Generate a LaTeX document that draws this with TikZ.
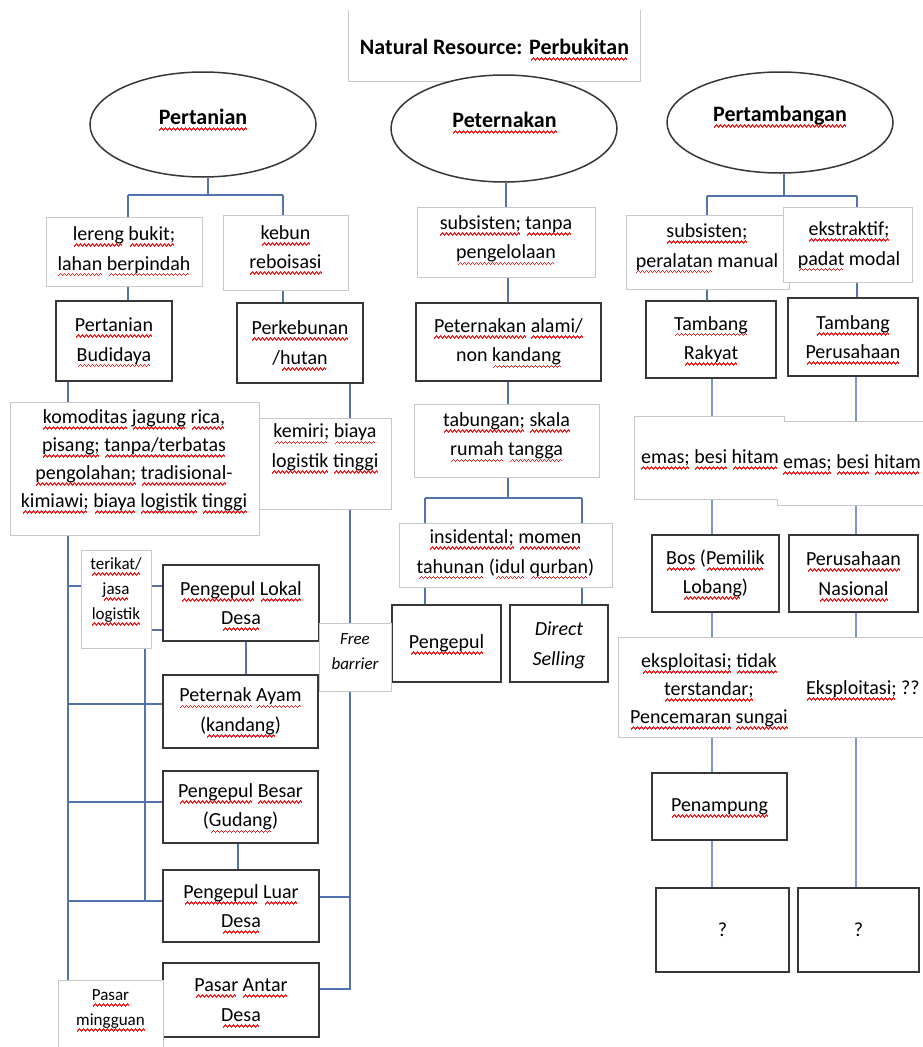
\documentclass[tikz,border=0pt]{standalone}
\usepackage{fontspec}
\setmainfont{Carlito}
\usetikzlibrary{shapes.geometric,fit}
\definecolor{conn}{RGB}{82,114,176}
\definecolor{connL}{RGB}{125,152,204}
\definecolor{dbord}{RGB}{55,55,55}
\definecolor{lbord}{RGB}{200,200,200}
\definecolor{squig}{RGB}{250,30,30}
\pgfdeclarelayer{bg}\pgfsetlayers{bg,main}
\newcommand\fsA{\fontsize{20}{29.5}\selectfont}
\newcommand\fsT{\fontsize{22}{29.5}\selectfont}
\newcommand\fsK{\fontsize{20}{28}\selectfont}
\newcommand\fsB{\fontsize{17}{25}\selectfont}
\newbox\wvbox
\newcommand\wvpat{\hbox{{\color{squig}\rule[-6.4pt]{1pt}{1.8pt}\rule[-5.4pt]{1pt}{1.8pt}\rule[-4.4pt]{1pt}{1.8pt}\rule[-5.4pt]{1pt}{1.8pt}}}}
\newcommand\wv[1]{\setbox\wvbox=\hbox{#1}\leavevmode\rlap{\smash{\hbox to\wd\wvbox{\cleaders\wvpat\hfill}}}\box\wvbox}
\tikzset{
 dbox/.style={draw=dbord, line width=1.5pt, fill=white, inner sep=0pt},
 lbox/.style={draw=lbord, line width=1pt, fill=white, inner sep=0pt},
 wbox/.style={draw=none, fill=white, inner sep=0pt},
 ell/.style={ellipse, draw=dbord, line width=1.5pt, fill=white, inner sep=0pt},
 lab/.style={inner sep=0pt, align=center, font=\fsA},
 ttl/.style={inner sep=0pt, align=center, font=\fsT\bfseries},
 cn/.style={draw=conn, line width=1.5pt},
 cnr/.style={draw=connL, line width=1.8pt},
}
\newcommand\dbx[3]{\node[dbox, fit={#2}] (#1) {};\node[lab] (#1T) at (#1.center) {#3};}
\begin{document}
\begin{tikzpicture}[x=1pt,y=-1pt]
\path[use as bounding box] (0,0) rectangle (923,1047);
% title
\node[wbox, fit={(349,10)(640,81)}] (title) {};
\draw[lbord, line width=1pt] (title.north west) -- (title.south west) -- (title.south east) -- (title.north east);
\node[ttl] (titleT) at (494.5,47) {Natural Resource: \wv{Perbukitan}};
% ellipses
\node[ell, minimum width=226, minimum height=105] (pert) at (203,124.5) {};
\node[ttl] (pertT) at (203,117) {\wv{Pertanian}};
\node[ell, minimum width=226, minimum height=107] (petn) at (504,128.5) {};
\node[ttl] (petnT) at (504.5,120) {\wv{Peternakan}};
\node[ell, minimum width=226, minimum height=101] (ptb) at (780,122.5) {};
\node[ttl] (ptbT) at (780,116) {\wv{Pertambangan}};
% row 2
\node[lbox, fit={(46,217)(202,286)}] (lereng) {};
\node[lab] (lerengT) at (124,250) {\wv{lereng} \wv{bukit;}\\\wv{lahan} \wv{berpindah}};
\node[lbox, fit={(223,215)(348,290)}] (kebun) {};
\node[lab] (kebunT) at (285.5,247) {\wv{kebun}\\\wv{reboisasi}};
\node[lbox, fit={(417,207)(595,277)}] (subs1) {};
\node[lab] (subs1T) at (506,239) {\wv{subsisten;} \wv{tanpa}\\\wv{pengelolaan}};
\node[lbox, fit={(626,215)(789,289)}] (subs2) {};
\node[lab] (subs2T) at (707,247) {\wv{subsisten;}\\\wv{peralatan} manual};
\node[lbox, fit={(783,207)(912,282)}] (ekst) {};
\node[lab] (ekstT) at (849,245) {\wv{ekstraktif;}\\\wv{padat} modal};
% row 3
\dbx{pbud}{(56,301)(172,381)}{\wv{Pertanian}\\\wv{Budidaya}}
\dbx{pkeb}{(237,303)(363,383)}{\wv{Perkebunan}\\/\wv{hutan}}
\dbx{palami}{(416,303)(601,381)}{\wv{Peternakan} \wv{alami/}\\non \wv{kandang}}
\dbx{trak}{(646,301)(776,378)}{\wv{Tambang}\\\wv{Rakyat}}
\dbx{tper}{(788,298)(918,376)}{\wv{Tambang}\\\wv{Perusahaan}}
% row 4
\node[lbox, fit={(259,418)(391,509)}] (kemiri) {};
\node[lab] (kemiriT) at (325,447.5) {\wv{kemiri;} \wv{biaya}\\\wv{logistik} \wv{tinggi}};
\node[lbox, fit={(10,402)(259,535)}] (komod) {};
\node[lab, font=\fsK] (komodT) at (134,460.5) {\wv{komoditas} \wv{jagung} \wv{rica,}\\\wv{pisang;} \wv{tanpa/terbatas}\\\wv{pengolahan;} \wv{tradisional}-\\\wv{kimiawi;} \wv{biaya} \wv{logistik} \wv{tinggi}};
\node[lbox, fit={(414,404)(599,477)}] (tabungan) {};
\node[lab] (tabunganT) at (506.5,436) {\wv{tabungan;} \wv{skala}\\\wv{rumah} \wv{tangga}};
\node[wbox, fit={(777,421)(930,505)}] (emasR) {};
\node[wbox, fit={(634,416)(784,499)}] (emasL) {};
\draw[lbord, line width=1pt] (930,421) -- (784,421) -- (784,416) -- (634,416) -- (634,499) -- (777,499) -- (777,505) -- (930,505);
\node[lab] (emasLT) at (710,458) {\wv{emas;} \wv{besi} \wv{hitam}};
\node[lab] (emasRT) at (852,463) {\wv{emas;} \wv{besi} \wv{hitam}};
% middle lower
\node[lbox, fit={(399,523)(612,587)}] (insid) {};
\node[lab] (insidT) at (505.5,553) {\wv{insidental;} \wv{momen}\\\wv{tahunan} (\wv{idul} \wv{qurban})};
\dbx{pengM}{(392,605)(501,682)}{\wv{Pengepul}}
\node[dbox, fit={(510,605)(608,682)}] (direct) {};
\node[lab, font=\fsA\itshape] (directT) at ([yshift=-2pt]direct.center) {Direct\\Selling};
% right lower
\dbx{bos}{(652,535)(779,612)}{\wv{Bos} (\wv{Pemilik}\\\wv{Lobang})}
\dbx{pnas}{(789,535)(918,612)}{\wv{Perusahaan}\\\wv{Nasional}}
\node[lbox, fit={(618,637)(930,737)}] (eksp) {};
\node[lab, font=\fsK] (ekspLT) at (709,690) {\wv{eksploitasi;} \wv{tidak}\\\wv{terstandar;}\\\wv{Pencemaran} \wv{sungai}};
\node[lab] (ekspRT) at (863,689) {\wv{Eksploitasi;} ??};
\dbx{penamp}{(652,773)(787,840)}{\wv{Penampung}}
\dbx{q1}{(656,888)(789,972)}{?}
\dbx{q2}{(798,888)(919,972)}{?}
% left lower
\node[lbox, fit={(81,550)(151,648)}] (terikat) {};
\node[lab, font=\fsB] (terikatT) at (116,590) {\wv{terikat/}\\\wv{jasa}\\\wv{logistik}};
\dbx{plokal}{(163,565)(319,641)}{\wv{Pengepul} \wv{Lokal}\\\wv{Desa}}
\node[lbox, fit={(319,623)(391,691)}] (free) {};
\node[lab, font=\fsB\itshape] (freeT) at (355,652) {Free\\barrier};
\dbx{payam}{(163,675)(318,748)}{\wv{Peternak} \wv{Ayam}\\(\wv{kandang})}
\dbx{pbesar}{(163,771)(318,843)}{\wv{Pengepul} \wv{Besar}\\(\wv{Gudang})}
\dbx{pluar}{(163,870)(319,942)}{\wv{Pengepul} \wv{Luar}\\\wv{Desa}}
\dbx{pantar}{(163,963)(319,1037)}{\wv{Pasar} \wv{Antar}\\\wv{Desa}}
\node[lbox, fit={(58,980)(163,1060)}] (pming) {};
\node[lab, font=\fsB] (pmingT) at (110.5,1009) {\wv{Pasar}\\\wv{mingguan}};
% connectors
\begin{pgfonlayer}{bg}
\coordinate (xA) at (208,195); \coordinate (xAl) at (128,195); \coordinate (xAr) at (283,195);
\draw[cn] (pert.south -| xA) -- (xA);
\draw[cn] (xAl) -- (xAr);
\draw[cn] (xAl) -- (xAl |- lereng.north);
\draw[cn] (xAr) -- (xAr |- kebun.north);
\draw[cn] (lereng.south -| xAl) -- (xAl |- pbud.north);
\draw[cn] (kebun.south -| xAr) -- (xAr |- pkeb.north);
\coordinate (xL) at (68,0); \coordinate (xR) at (350,0);
\draw[cn] (pbud.south -| xL) -- (xL |- komod.north);
\draw[cn] (komod.south -| xL) -- (xL |- pming.north);
\draw[cn] (pkeb.south -| xR) -- (xR |- kemiri.north);
\coordinate (hR1) at (350,897); \coordinate (hR2) at (350,989);
\draw[cn] (kemiri.south -| xR) -- (hR2) -- (hR2 -| pantar.east);
\draw[cn] (hR1) -- (hR1 -| pluar.east);
\coordinate (h1) at (68,586);
\draw[cn] (h1) -- (h1 -| terikat.west);
\draw[cn] (h1 -| terikat.east) -- (h1 -| plokal.west);
\coordinate (h2) at (151,630);
\draw[cn] (h2 -| terikat.east) -- (h2 -| plokal.west);
\coordinate (h3) at (68,704); \draw[cn] (h3) -- (h3 -| payam.west);
\coordinate (h4) at (68,802); \draw[cn] (h4) -- (h4 -| pbesar.west);
\coordinate (h5) at (68,901); \draw[cn] (h5) -- (h5 -| pluar.west);
\coordinate (xT) at (145,0); \draw[cn] (terikat.south -| xT) -- (xT |- h5);
\coordinate (xP) at (246,0); \draw[cn] (plokal.south -| xP) -- (xP |- payam.north);
\coordinate (xB) at (238,0); \draw[cn] (pbesar.south -| xB) -- (xB |- pluar.north);
% middle
\coordinate (xM) at (506,0); \draw[cn] (petn.south -| xM) -- (xM |- subs1.north);
\coordinate (xM2) at (508,0);
\draw[cn] (subs1.south -| xM2) -- (xM2 |- palami.north);
\draw[cn] (palami.south -| xM2) -- (xM2 |- tabungan.north);
\coordinate (jM) at (508,498); \coordinate (jMl) at (425,498); \coordinate (jMr) at (582,498);
\draw[cn] (tabungan.south -| jM) -- (jM);
\draw[cn] (jMl) -- (jMr);
\draw[cn] (jMl) -- (jMl |- insid.north);
\draw[cn] (jMr) -- (jMr |- insid.north);
\draw[cn] (insid.south -| jMl) -- (jMl |- pengM.north);
\draw[cn] (insid.south -| jMr) -- (jMr |- direct.north);
% right
\coordinate (jC) at (784,196); \coordinate (jCl) at (707,196); \coordinate (jCr) at (857,196);
\draw[cn] (ptb.south -| jC) -- (jC);
\draw[cn] (jCl) -- (jCr);
\draw[cn] (jCl) -- (jCl |- subs2.north);
\draw[cn] (jCr) -- (jCr |- ekst.north);
\draw[cn] (subs2.south -| jCl) -- (jCl |- trak.north);
\draw[cn] (ekst.south -| jCr) -- (jCr |- tper.north);
\coordinate (xC1) at (712,0); \coordinate (xC2) at (856,0);
\draw[cnr] (trak.south -| xC1) -- (xC1 |- emasL.north);
\draw[cnr] (tper.south -| xC2) -- (xC2 |- emasR.north);
\draw[cnr] (emasL.south -| xC1) -- (xC1 |- bos.north);
\draw[cnr] (emasR.south -| xC2) -- (xC2 |- pnas.north);
\draw[cnr] (bos.south -| xC1) -- (xC1 |- eksp.north);
\draw[cnr] (pnas.south -| xC2) -- (xC2 |- eksp.north);
\draw[cnr] (eksp.south -| xC1) -- (xC1 |- penamp.north);
\draw[cnr] (penamp.south -| xC1) -- (xC1 |- q1.north);
\draw[cnr] (eksp.south -| xC2) -- (xC2 |- q2.north);
\end{pgfonlayer}
\end{tikzpicture}
\end{document}
